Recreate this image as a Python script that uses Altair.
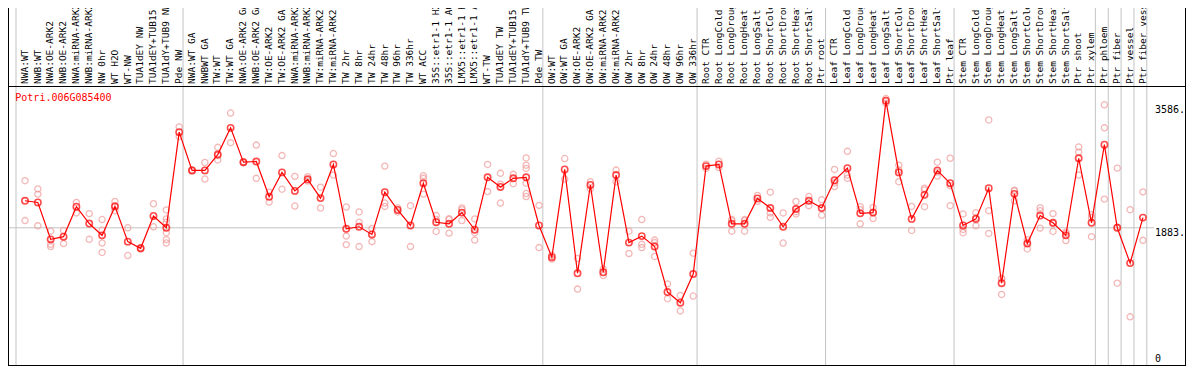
import altair as alt
import pandas as pd

title = "Potri.006G085400"

samples = [
    "NWA:WT", "NWB:WT", "NWA:OE-ARK2", "NWB:OE-ARK2", "NWA:miRNA-ARK2", "NWB:miRNA-ARK2",
    "NW 0hr", "WT H2O", "WT-NW", "TUA1dEY NW", "TUA1dEY+TUB15", "TUA1dY+TUB9 NW", "Pde NW",
    "NWA:WT GA", "NWBWT GA", "TW:WT", "TW:WT GA", "NWA:OE-ARK2 GA", "NWB:OE-ARK2 GA",
    "TW:OE-ARK2", "TW:OE-ARK2 GA", "NWA:miRNA-ARK2", "NWB:miRNA-ARK2", "TW:miRNA-ARK2",
    "TW:miRNA-ARK2", "TW 2hr", "TW 8hr", "TW 24hr", "TW 48hr", "TW 96hr", "TW 336hr",
    "WT ACC", "35S::etr1-1 H2O", "35S::etr1-1 ACC", "LMX5::etr1-1 H2O", "LMX5::etr1-1 ACC",
    "WT-TW", "TUA1dEY TW", "TUA1dEY+TUB15", "TUA1dY+TUB9 TW", "Pde TW",
    "OW:WT", "OW:WT GA", "OW:OE-ARK2", "OW:OE-ARK2 GA", "OW:miRNA-ARK2", "OW:miRNA-ARK2",
    "OW 2hr", "OW 8hr", "OW 24hr", "OW 48hr", "OW 96hr", "OW 336hr",
    "Root CTR", "Root LongCold", "Root LongDrought", "Root LongHeat", "Root LongSalt",
    "Root ShortCold", "Root ShortDrought", "Root ShortHeat", "Root ShortSalt", "Ptr root",
    "Leaf CTR", "Leaf LongCold", "Leaf LongDrought", "Leaf LongHeat", "Leaf LongSalt",
    "Leaf ShortCold", "Leaf ShortDrought", "Leaf ShortHeat", "Leaf ShortSalt", "Ptr leaf",
    "Stem CTR", "Stem LongCold", "Stem LongDrought", "Stem LongHeat", "Stem LongSalt",
    "Stem ShortCold", "Stem ShortDrought", "Stem ShortHeat", "Stem ShortSalt",
    "Ptr shoot", "Ptr xylem", "Ptr phloem", "Ptr fiber", "Ptr vessel", "Ptr fiber vessel",
]

means = [
    2257, 2234, 1723, 1760, 2175, 1942, 1778, 2179, 1691, 1599, 2047, 1883, 3207,
    2678, 2678, 2897, 3267, 2791, 2801, 2312, 2650, 2394, 2554, 2294, 2760, 1869,
    1897, 1791, 2376, 2130, 1915, 2500, 1960, 1938, 2093, 1856, 2582, 2449, 2568,
    2582, 1915,
    1476, 2691, 1253, 2476, 1267, 2613, 1678, 1768, 1623, 993, 846, 1243,
    2737, 2760, 1938, 1938, 2289, 2157, 1897, 2143, 2257, 2157,
    2541, 2709, 2083, 2093, 3641, 2650, 2006, 2339, 2678, 2500,
    1915, 2006, 2431, 1116, 2353, 1664, 2052, 1952, 1778, 2846, 1952,
    3034, 1883, 1394, 2024,
]

replicates = [
    [2535, 1983], [2421, 2349, 1910], [1836, 1654, 1623], [1846, 1664], [2234, 2089],
    [2079, 1723], [1997, 1850, 1672, 1541], [2247, 2189, 2120], [1883, 1499], [1609, 1588],
    [2216, 1897], [2130, 2006, 1960, 1815, 1719, 1672], [3280, 3148],
    [2686, 2668], [2787, 2558], [2997, 2823, 2887], [3472, 3061], [2785, 2797], [3028, 2568],
    [2376, 2239], [2883, 2417], [2595, 2184], [2590, 2531], [2445, 2157], [2911, 2613],
    [2171, 1768, 1650], [2102, 1960, 1623], [1873, 1691], [2737, 2226, 2179], [2157, 2102],
    [2189, 1623], [2604, 2568, 2349], [2052, 1832, 1997], [2010, 1809, 1997],
    [2157, 1983, 2134], [2006, 1815, 1713], [2760, 2384], [2637, 2486, 2226], [2623, 2494],
    [2850, 2750, 2705, 2500, 2357, 2316], [2193, 1609],
    [1449, 1503], [2842, 2558], [1458, 1034], [2521, 2421], [1312, 1223], [2682, 2521],
    [1836, 1527], [1997, 1654, 1609], [1713, 1678, 1486], [1106, 901], [946, 732], [1531, 938],
    [2705, 2764], [2805, 2716], [1997, 1836, 1983], [1997, 1836, 1983], [2330, 2250],
    [2376, 2089, 2028], [2089, 1672], [2247, 2075, 2106], [2316, 2189], [2271, 2056],
    [2691, 2453, 2504], [2942, 2568, 2613], [2175, 1938, 2134], [2165, 2010, 2100], [3672, 3609],
    [2750, 2521, 2682], [2179, 1846], [2431, 2175, 2408], [2791, 2600, 2655], [2846, 2189, 2466],
    [2075, 1815, 1860], [2093, 1910, 2024], [3376, 2120, 1805], [1184, 960, 1175],
    [2404, 2257, 2394], [1719, 1590, 1682], [2161, 1878, 2120], [2079, 1832, 1945],
    [1823, 1705, 1805], [3001, 2932, 2613], [2065, 1760, 2024],
    [3586, 3267, 2280], [2709, 1116, 1890], [2134, 650], [2380, 1709],
]

group_bounds = [0, 13, 41, 53, 63, 73, 84, 85, 86, 87, 88]
ytick_values = [3586, 1883]
ytick_labels = ["3586.", "1883."]
zero_value = [0]
zero_label = ["0"]
grid_value = [1883]

W, H = 1178, 358
HEADER = 78
N = len(samples)
MONO = "DejaVu Sans Mono"

df_mean = pd.DataFrame({"pos": [i + 0.7 for i in range(N)], "value": means, "sample": samples})
rows = []
for i, reps in enumerate(replicates):
    for r in reps:
        rows.append({"pos": i + 0.7, "value": r})
df_rep = pd.DataFrame(rows)
df_lab = pd.DataFrame({"pos": [i + 0.68 for i in range(N)], "label": samples})
df_bounds = pd.DataFrame({"k": group_bounds})

xs = alt.Scale(domain=[0, 88], range=[8, 8 + 88 * 12.85])
ys = alt.Scale(domain=[-30.9, 4926.5])

vlines = alt.Chart(df_bounds).mark_rule(color="#c4c4c4", strokeWidth=1).encode(
    x=alt.X("k:Q", scale=xs, axis=None), y=alt.value(0), y2=alt.value(H)
)
hgrid = alt.Chart(pd.DataFrame({"v": grid_value})).mark_rule(color="#c4c4c4", strokeWidth=1).encode(
    y=alt.Y("v:Q", scale=ys, axis=None), x=alt.value(0), x2=alt.value(1146)
)
frame = alt.Chart(pd.DataFrame({"a": [0]})).mark_rule(color="black", strokeWidth=1)
header = frame.encode(y=alt.value(HEADER + 0.5), x=alt.value(0), x2=alt.value(W))
left = frame.encode(x=alt.value(0.5), y=alt.value(0), y2=alt.value(H))
right = frame.encode(x=alt.value(W - 0.5), y=alt.value(0), y2=alt.value(H))
bottom = frame.encode(y=alt.value(H - 0.5), x=alt.value(0), x2=alt.value(W))

labels = alt.Chart(df_lab).mark_text(
    angle=270, align="left", baseline="middle", font=MONO, fontSize=9.5, color="black", clip=True
).encode(x=alt.X("pos:Q", scale=xs, axis=None), y=alt.value(HEADER - 2), text="label:N")

title_mark = alt.Chart(pd.DataFrame({"t": [title]})).mark_text(
    align="left", baseline="middle", font=MONO, fontSize=10, color="red"
).encode(x=alt.value(7.3), y=alt.value(90.4), text="t:N")

ylab = alt.Chart(pd.DataFrame({"v": ytick_values, "t": ytick_labels})).mark_text(
    align="left", baseline="top", font=MONO, fontSize=10, color="black"
).encode(y=alt.Y("v:Q", scale=ys, axis=None), x=alt.value(1147), text="t:N")
zlab = alt.Chart(pd.DataFrame({"v": zero_value, "t": zero_label})).mark_text(
    align="left", baseline="bottom", font=MONO, fontSize=10, color="black"
).encode(y=alt.Y("v:Q", scale=ys, axis=None), x=alt.value(1147), text="t:N")

reps_mark = alt.Chart(df_rep).mark_point(
    shape="circle", filled=False, color="#f09a9a", size=38, strokeWidth=1.3
).encode(x=alt.X("pos:Q", scale=xs, axis=None), y=alt.Y("value:Q", scale=ys, axis=None))

line = alt.Chart(df_mean).mark_line(color="red", strokeWidth=1.2).encode(
    x=alt.X("pos:Q", scale=xs, axis=None), y=alt.Y("value:Q", scale=ys, axis=None), order="pos:Q"
)
mean_pts = alt.Chart(df_mean).mark_point(
    shape="circle", filled=False, color="red", size=40, strokeWidth=1.6
).encode(x=alt.X("pos:Q", scale=xs, axis=None), y=alt.Y("value:Q", scale=ys, axis=None))

chart = alt.layer(
    vlines, hgrid, header, left, right, bottom, labels, title_mark, ylab, zlab,
    reps_mark, line, mean_pts
).properties(
    width=W, height=H, padding=0, autosize=alt.AutoSizeParams(type="none")
).configure_view(strokeWidth=0)

chart.save("out.html", embed_options={"renderer": "svg", "actions": False})
